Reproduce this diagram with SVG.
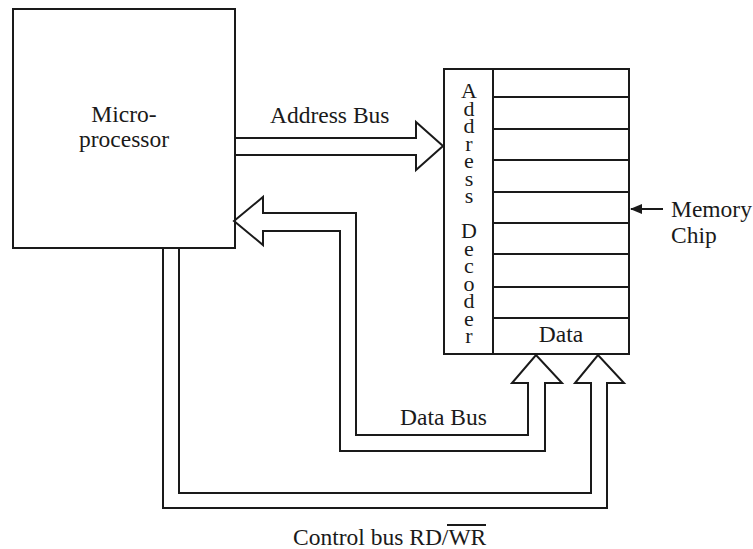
<svg xmlns="http://www.w3.org/2000/svg" width="753" height="549" viewBox="0 0 753 549">
<style>
  .ln { fill: none; stroke: #1a1a1a; stroke-width: 2; stroke-linejoin: miter; }
  .bx { fill: #ffffff; stroke: #1a1a1a; stroke-width: 2; }
  .t { font-size: 23.5px; fill: #1a1a1a; }
  .v { font-size: 22px; fill: #1a1a1a; text-anchor: middle; }
</style>
<defs>
  <marker id="ah" markerWidth="12" markerHeight="10" refX="11" refY="5" orient="auto" markerUnits="userSpaceOnUse">
    <path d="M0,0 L12,5 L0,10 Z" fill="#1a1a1a"/>
  </marker>
</defs>
<rect width="753" height="549" fill="#ffffff"/>

<g font-family="'Liberation Serif', 'Times New Roman', 'DejaVu Serif', serif">
<g id="microprocessor">
  <rect class="bx" x="13" y="9" width="222" height="239"/>
  <text class="t" x="124" y="122" text-anchor="middle">Micro-</text>
  <text class="t" x="124" y="147" text-anchor="middle">processor</text>
</g>

<g id="memory-chip">
  <rect class="bx" x="444" y="69" width="185" height="285"/>
  <line class="ln" x1="493" y1="69" x2="493" y2="354"/>
  <line class="ln" x1="493" y1="97" x2="629" y2="97"/>
  <line class="ln" x1="493" y1="129" x2="629" y2="129"/>
  <line class="ln" x1="493" y1="160" x2="629" y2="160"/>
  <line class="ln" x1="493" y1="192" x2="629" y2="192"/>
  <line class="ln" x1="493" y1="223" x2="629" y2="223"/>
  <line class="ln" x1="493" y1="254" x2="629" y2="254"/>
  <line class="ln" x1="493" y1="287" x2="629" y2="287"/>
  <line class="ln" x1="493" y1="318" x2="629" y2="318"/>
  <text class="v" x="469" y="98">A</text>
  <text class="v" x="469" y="115.5">d</text>
  <text class="v" x="469" y="133">d</text>
  <text class="v" x="469" y="150.5">r</text>
  <text class="v" x="469" y="168">e</text>
  <text class="v" x="469" y="185.5">s</text>
  <text class="v" x="469" y="203">s</text>
  <text class="v" x="469" y="238">D</text>
  <text class="v" x="469" y="255.5">e</text>
  <text class="v" x="469" y="273">c</text>
  <text class="v" x="469" y="290.5">o</text>
  <text class="v" x="469" y="308">d</text>
  <text class="v" x="469" y="325.5">e</text>
  <text class="v" x="469" y="343">r</text>
  <text class="t" x="561" y="342" text-anchor="middle">Data</text>
</g>

<g id="memory-label">
  <text class="t" x="671" y="217">Memory</text>
  <text class="t" x="671" y="243">Chip</text>
</g>

<g id="connectors">
  <path id="address-bus" class="ln" d="M235,138 L416,138 L416,122 L443,146 L416,170 L416,155 L235,155"/>
  <path id="data-bus" class="ln" d="M263,213 L356,213 L356,435 L528,435 L528,383 L512,383 L536,355 L562,383 L545,383 L545,451 L340,451 L340,231 L263,231 L263,245 L234,221 L263,197 Z"/>
  <path id="control-bus" class="ln" d="M163,248 L163,508 L607,508 L607,383 L624,383 L598,355 L575,383 L591,383 L591,493 L179,493 L179,248"/>
  <line id="memory-pointer" class="ln" x1="663" y1="209" x2="631" y2="209" marker-end="url(#ah)"/>
</g>

<g id="labels">
  <text class="t" x="270" y="123">Address Bus</text>
  <text class="t" x="400" y="425">Data Bus</text>
  <text class="t" x="293" y="545">Control bus RD/WR</text>
  <line class="ln" x1="447" y1="525" x2="486" y2="525"/>
</g>
</g>
</svg>
